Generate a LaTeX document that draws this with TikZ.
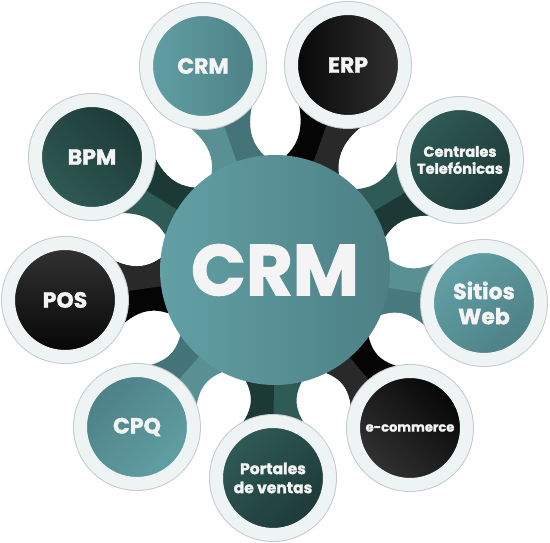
\documentclass[tikz,border=0pt]{standalone}
\usepackage{fontspec}
\setmainfont{Poppins}[BoldFeatures={FakeBold=1.6}]
\usetikzlibrary{calc,backgrounds}
\definecolor{tealA}{HTML}{62A0A5}
\definecolor{tealB}{HTML}{4C8085}
\definecolor{grnA}{HTML}{2F5B56}
\definecolor{grnB}{HTML}{1D3936}
\definecolor{blkA}{HTML}{333333}
\definecolor{blkB}{HTML}{050505}
\definecolor{ring}{HTML}{EEF3F4}
\definecolor{ringedge}{HTML}{C4CACC}
\definecolor{label}{HTML}{F4F4F4}

\begin{document}
\begin{tikzpicture}[x=1pt,y=1pt,
	sat/.style={circle, draw=ring, line width=13pt, minimum size=113pt, inner sep=0pt,
		align=center, text=label, font=\bfseries\fontsize{22}{25}\selectfont,
		preaction={draw=ringedge, line width=15pt}},
	tealsat/.style={sat, left color=tealA, right color=tealB, shading angle=#1},
	grnsat/.style={sat, left color=grnA, right color=grnB, shading angle=#1},
	blksat/.style={sat, left color=blkA, right color=blkB, shading angle=#1}]
\newcommand{\neck}[3]{%
	\fill[#2] ($(c.center)!115pt!14:(#1.center)$) .. controls ($(c.center)!135pt!7:(#1.center)$) and ($(#1.center)!62pt!-22:(c.center)$) .. ($(#1.center)!63pt!-68:(c.center)$)
		-- ($(#1.center)!63pt!68:(c.center)$) .. controls ($(#1.center)!62pt!22:(c.center)$) and ($(c.center)!135pt!-7:(#1.center)$) .. ($(c.center)!115pt!-14:(#1.center)$) -- cycle;
	\fill[#3] (c.center) -- ($(c.center)!115pt!-14:(#1.center)$) .. controls ($(c.center)!135pt!-7:(#1.center)$) and ($(#1.center)!62pt!22:(c.center)$) .. ($(#1.center)!63pt!68:(c.center)$) -- (#1.center) -- cycle;
}
\useasboundingbox (0,0) rectangle (550,543);
\node [circle, minimum size=230pt, inner sep=0pt, left color=tealA, right color=tealB, text=label,
	font=\bfseries\fontsize{72}{72}\selectfont] (c) at (275,273) {CRM};
\node [tealsat=90] (crm) at (203,477) {CRM};
\node [blksat=270] (erp) at (348,478) {ERP};
\node [grnsat=45, font=\bfseries\fontsize{14.5}{17}\selectfont] (cen) at (460,383) {Centrales\\Telefónicas};
\node [tealsat=45] (web) at (484,240) {Sitios\\Web};
\node [blksat=135, font=\bfseries\fontsize{13}{15}\selectfont] (ecom) at (410,115) {e-commerce};
\node [grnsat=45, font=\bfseries\fontsize{15.5}{19}\selectfont] (por) at (273,65) {Portales\\de ventas};
\node [tealsat=225] (cpq) at (137,116) {CPQ};
\node [blksat=0] (pos) at (65,243) {POS};
\node [grnsat=135] (bpm) at (92,386) {BPM};
\begin{scope}[on background layer]
	\neck{crm}{tealA!90!black}{tealB!90!black}
	\neck{erp}{blkB}{blkA!80!black}
	\neck{cen}{grnA}{grnB}
	\neck{web}{tealA!90!black}{tealB!95!black}
	\neck{ecom}{blkB}{blkA!80!black}
	\neck{por}{grnA}{grnB}
	\neck{cpq}{tealA!90!black}{tealB!90!black}
	\neck{pos}{blkB}{blkA!80!black}
	\neck{bpm}{grnA}{grnB}
\end{scope}
\end{tikzpicture}
\end{document}
